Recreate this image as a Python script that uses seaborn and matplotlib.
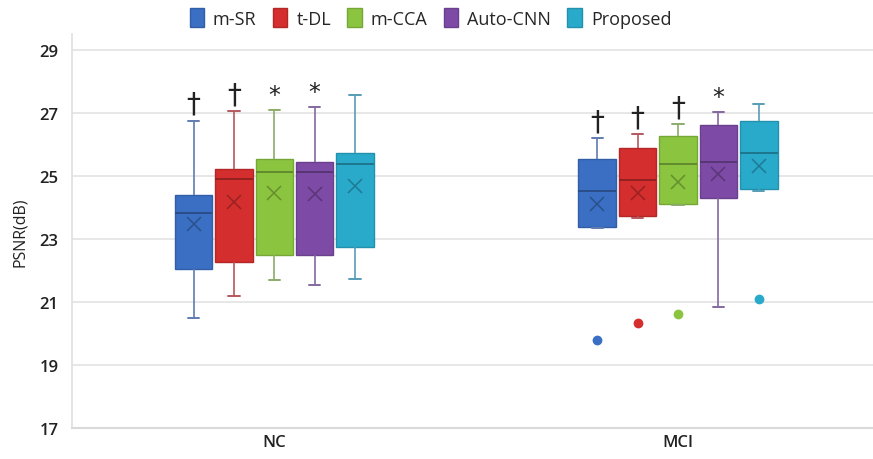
import matplotlib
matplotlib.use("Agg")
import matplotlib.pyplot as plt
from matplotlib.patches import Patch
from matplotlib.colors import to_rgb
import seaborn as sns
import pandas as pd
import numpy as np

# Data

groups = ["NC", "MCI"]
methods = ["m-SR", "t-DL", "m-CCA", "Auto-CNN", "Proposed"]
colors = ["#3B6FC3", "#D42E2E", "#8BC540", "#7D4BA6", "#29AACB"]

# five-number summaries, one list per method: [NC, MCI]
whis_low = {
    "m-SR": [20.50, 23.35], "t-DL": [21.20, 23.68], "m-CCA": [21.70, 24.08],
    "Auto-CNN": [21.56, 20.86], "Proposed": [21.73, 24.53],
}
q1 = {
    "m-SR": [22.05, 23.39], "t-DL": [22.26, 23.74], "m-CCA": [22.49, 24.12],
    "Auto-CNN": [22.51, 24.30], "Proposed": [22.76, 24.60],
}
median = {
    "m-SR": [23.83, 24.53], "t-DL": [24.90, 24.87], "m-CCA": [25.14, 25.40],
    "Auto-CNN": [25.14, 25.45], "Proposed": [25.38, 25.74],
}
q3 = {
    "m-SR": [24.40, 25.56], "t-DL": [25.22, 25.88], "m-CCA": [25.53, 26.26],
    "Auto-CNN": [25.44, 26.64], "Proposed": [25.75, 26.75],
}
whis_high = {
    "m-SR": [26.76, 26.21], "t-DL": [27.06, 26.33], "m-CCA": [27.10, 26.65],
    "Auto-CNN": [27.20, 27.05], "Proposed": [27.58, 27.30],
}
means = {
    "m-SR": [23.48, 24.11], "t-DL": [24.18, 24.45], "m-CCA": [24.46, 24.83],
    "Auto-CNN": [24.44, 25.06], "Proposed": [24.69, 25.31],
}
# outliers only in the MCI group
outliers_mci = [19.80, 20.34, 20.64, None, 21.10]
# significance marks
marks = {
    "m-SR": ["†", "†"], "t-DL": ["†", "†"], "m-CCA": ["*", "†"],
    "Auto-CNN": ["*", "*"], "Proposed": ["", ""],
}

# Long tables

rows = []
for m in methods:
    for i, g in enumerate(groups):
        for v in [whis_low[m][i], q1[m][i], median[m][i], q3[m][i], whis_high[m][i]]:
            rows.append({"group": g, "method": m, "psnr": v})
box_df = pd.DataFrame(rows)

mean_df = pd.DataFrame(
    [{"group": g, "method": m, "psnr": means[m][i]}
     for m in methods for i, g in enumerate(groups)]
)
out_df = pd.DataFrame(
    [{"group": "MCI", "method": m, "psnr": v}
     for m, v in zip(methods, outliers_mci) if v is not None]
)


def shade(c, f):
    r = np.array(to_rgb(c))
    return tuple(r * f)


def toward_grey(c, f=0.45):
    r = np.array(to_rgb(c))
    grey = np.array([0.55, 0.55, 0.6])
    return tuple(r * (1 - f) + grey * f)


palette = dict(zip(methods, colors))

sns.set_theme(style="white")
plt.rcParams["font.family"] = ["Open Sans", "DejaVu Sans"]

fig = plt.figure(figsize=(8.73, 4.60), dpi=100)
ax = fig.add_axes([0.083, 0.067, 0.917, 0.856])

# Boxes, one call per method so each gets its own line colours

for m, c in zip(methods, colors):
    sns.boxplot(
        data=box_df[box_df["method"] == m],
        x="group",
        y="psnr",
        hue="method",
        order=groups,
        hue_order=methods,
        palette=palette,
        dodge=True,
        width=0.5,
        gap=0.07,
        whis=(0, 100),
        linecolor=shade(c, 0.85),
        linewidth=1.0,
        saturation=1,
        medianprops={"color": shade(c, 0.7), "linewidth": 1.4},
        whiskerprops={"color": toward_grey(c), "linewidth": 1.2},
        capprops={"color": toward_grey(c), "linewidth": 1.4},
        capwidths=0.028,
        legend=False,
        ax=ax,
    )

# Means as crosses

dark_palette = {m: shade(c, 0.72) for m, c in zip(methods, colors)}
sns.pointplot(
    data=mean_df,
    x="group",
    y="psnr",
    hue="method",
    order=groups,
    hue_order=methods,
    palette=dark_palette,
    dodge=0.4,
    linestyle="none",
    markers="x",
    markersize=10,
    markeredgewidth=1.1,
    errorbar=None,
    legend=False,
    ax=ax,
)

# Outliers

sns.pointplot(
    data=out_df,
    x="group",
    y="psnr",
    hue="method",
    order=groups,
    hue_order=methods,
    palette=palette,
    dodge=0.4,
    linestyle="none",
    markers="o",
    markersize=5,
    errorbar=None,
    legend=False,
    ax=ax,
)

# Significance marks above the top whiskers

for j, m in enumerate(methods):
    for i, g in enumerate(groups):
        if marks[m][i]:
            dagger = marks[m][i] == "†"
            x = i - 0.2 + 0.1 * j
            ax.annotate(
                marks[m][i],
                (x, whis_high[m][i]),
                xytext=(0, 2),
                textcoords="offset points",
                ha="center",
                va="bottom",
                fontsize=20 if dagger else 17,
                color="#222222",
                family="DejaVu Sans",
            )

# Axes styling

ax.set_ylim(17, 29.5)
ax.set_xlim(-0.5, 1.483)
ax.set_yticks(range(17, 30, 2))
ax.yaxis.grid(True, color="#E3E3E3", linewidth=1.2)
ax.set_axisbelow(True)
for s in ["top", "right"]:
    ax.spines[s].set_visible(False)
ax.spines["left"].set_color("#E0E0E0")
ax.spines["bottom"].set_color("#D9D9D9")
ax.spines["bottom"].set_linewidth(1.5)
ax.tick_params(axis="y", length=0, labelsize=12, colors="#222222", pad=10)
ax.tick_params(axis="x", length=0, labelsize=12, colors="#222222", pad=4)
for lab in ax.get_xticklabels() + ax.get_yticklabels():
    lab.set_fontweight("semibold")
ax.set_xlabel("")
ax.set_ylabel("PSNR(dB)", fontsize=11.5, color="#222222", labelpad=8)

handles = [Patch(facecolor=c, edgecolor=shade(c, 0.85), label=m)
           for m, c in zip(methods, colors)]
fig.legend(
    handles=handles,
    loc="upper center",
    bbox_to_anchor=(0.493, 1.015),
    ncol=5,
    frameon=False,
    fontsize=13,
    handlelength=0.8,
    handleheight=1.2,
    handletextpad=0.5,
    columnspacing=0.9,
)

fig.savefig("out.png", dpi=100)
